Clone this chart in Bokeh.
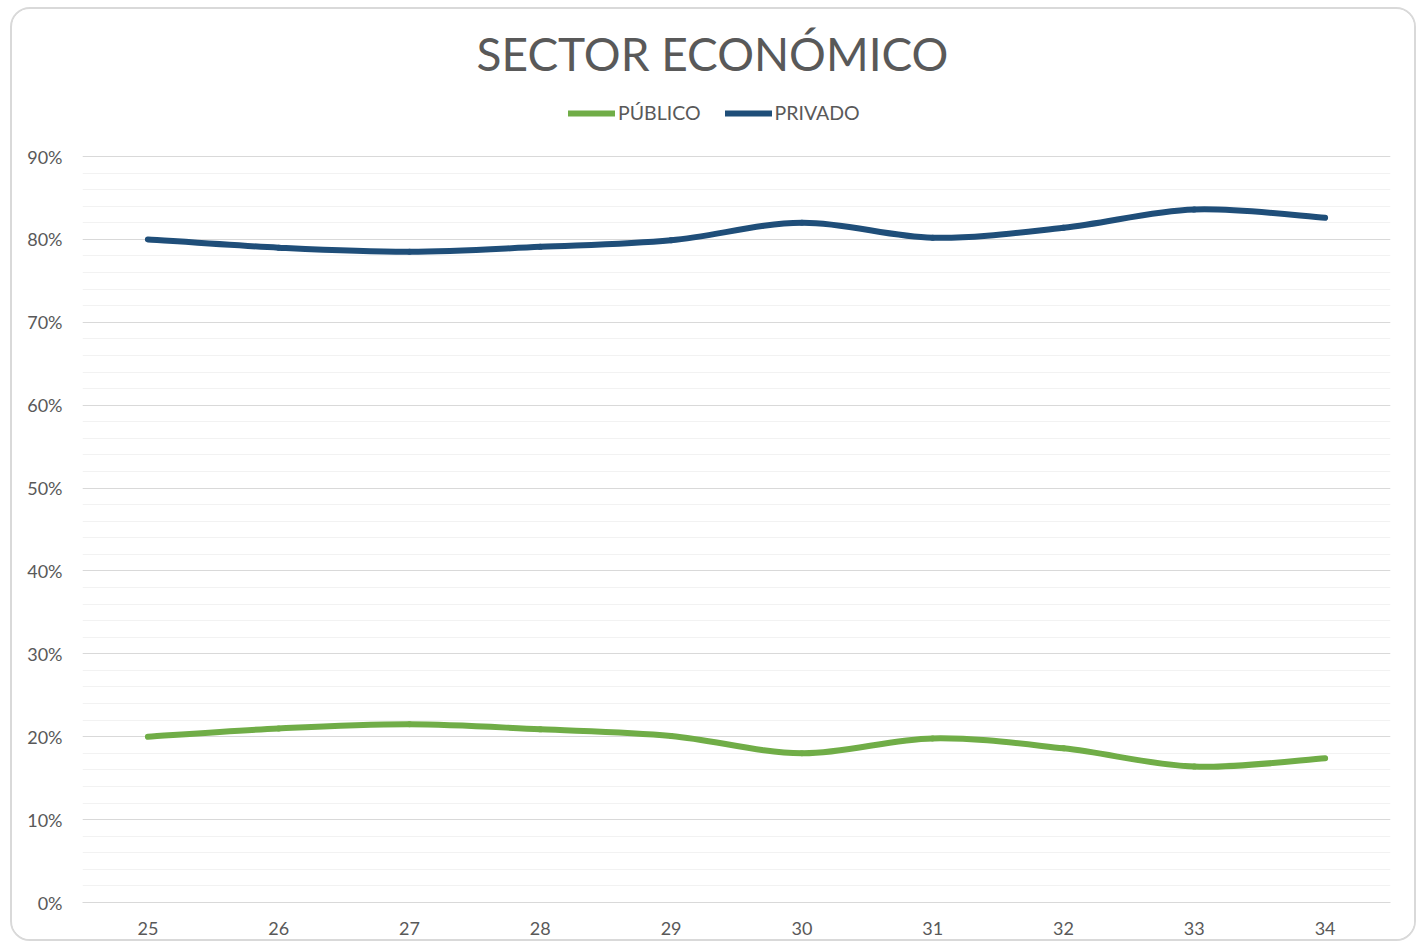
import numpy as np
from bokeh.plotting import figure
from bokeh.models import Range1d, FixedTicker, PrintfTickFormatter, Legend, LegendItem, Label
from bokeh.embed import file_html
from bokeh.resources import INLINE

# ---- data ----
years = [25, 26, 27, 28, 29, 30, 31, 32, 33, 34]
publico = [20.0, 21.0, 21.5, 20.9, 20.1, 18.0, 19.8, 18.6, 16.4, 17.4]
privado = [80.0, 79.0, 78.5, 79.1, 79.9, 82.0, 80.2, 81.4, 83.6, 82.6]
y_ticks = list(range(0, 91, 10))
y_minor = list(range(0, 91, 2))
title_text = "SECTOR ECONÓMICO"
labels = ["PÚBLICO", "PRIVADO"]
colors = ["#70AD47", "#1F4E79"]

TEXT = "#595959"
FONT = "Lato"

# layout (pixels)
FIG_W, FIG_H = 1406, 934
BORDER_L, BORDER_R, BORDER_B = 70, 28, 41
TOP_GAP = 147          # space above the 90% gridline
FRAME_H = FIG_H - BORDER_B
Y_TOP = 90 * FRAME_H / (FRAME_H - TOP_GAP)


def smooth_segments(xs, ys, t=1.0 / 6.0):
    P = np.column_stack([np.asarray(xs, float), np.asarray(ys, float)])
    n = len(P)
    out = {k: [] for k in ("x0", "y0", "x1", "y1", "cx0", "cy0", "cx1", "cy1")}
    for i in range(n - 1):
        p0 = P[max(i - 1, 0)]
        p1 = P[i]
        p2 = P[i + 1]
        p3 = P[min(i + 2, n - 1)]
        c1 = p1 + (p2 - p0) * t
        c2 = p2 - (p3 - p1) * t
        out["x0"].append(p1[0]); out["y0"].append(p1[1])
        out["x1"].append(p2[0]); out["y1"].append(p2[1])
        out["cx0"].append(c1[0]); out["cy0"].append(c1[1])
        out["cx1"].append(c2[0]); out["cy1"].append(c2[1])
    return out


p = figure(width=FIG_W, height=FIG_H,
           x_range=Range1d(24.5, 34.5), y_range=Range1d(0, Y_TOP),
           output_backend="svg", toolbar_location=None,
           min_border_left=BORDER_L, min_border_right=BORDER_R,
           min_border_top=0, min_border_bottom=BORDER_B)
p.styles = {"border": "2px solid #d9d9d9", "border-radius": "20px",
            "overflow": "hidden", "margin": "7px 0 0 10px"}
p.background_fill_color = "white"
p.border_fill_color = "white"
p.outline_line_color = None

p.xgrid.grid_line_color = None
p.ygrid.grid_line_color = "#d9d9d9"
p.ygrid.minor_grid_line_color = "#f2f2f2"

p.yaxis.ticker = FixedTicker(ticks=y_ticks, minor_ticks=y_minor)
p.yaxis.formatter = PrintfTickFormatter(format="%d%%")
p.yaxis.axis_line_color = None
p.yaxis.major_label_standoff = 20

p.xaxis.ticker = FixedTicker(ticks=years)
p.xaxis.axis_line_color = "#d9d9d9"
p.xaxis.major_label_standoff = 19

for ax in (p.xaxis, p.yaxis):
    ax.major_tick_line_color = None
    ax.minor_tick_line_color = None
    ax.major_tick_out = 0
    ax.major_tick_in = 0
    ax.minor_tick_out = 0
    ax.minor_tick_in = 0
    ax.major_label_text_font = FONT
    ax.major_label_text_font_size = "18px"
    ax.major_label_text_color = TEXT

renderers = []
for series, col in zip([publico, privado], colors):
    seg = smooth_segments(years, series)
    r = p.bezier(x0=seg["x0"], y0=seg["y0"], x1=seg["x1"], y1=seg["y1"],
                 cx0=seg["cx0"], cy0=seg["cy0"], cx1=seg["cx1"], cy1=seg["cy1"],
                 line_color=col, line_width=6, line_cap="round")
    renderers.append(r)

legend = Legend(items=[LegendItem(label=l, renderers=[r]) for l, r in zip(labels, renderers)],
                orientation="horizontal", location=(486, 778),
                padding=0, margin=0, border_line_color=None, background_fill_alpha=0,
                glyph_width=47, glyph_height=20, label_standoff=3, spacing=24,
                label_text_font=FONT, label_text_font_size="19.5px", label_text_color=TEXT)
p.add_layout(legend)

p.add_layout(Label(x=630, y=849, x_units="screen", y_units="screen", text=title_text,
                   text_align="center", text_baseline="middle",
                   text_font=FONT, text_font_size="46px", text_color=TEXT))

open("out.html", "w").write(file_html(p, INLINE))
